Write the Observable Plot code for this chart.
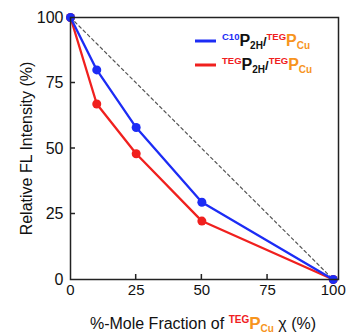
<!DOCTYPE html>
<html>
<head>
<meta charset="utf-8">
<script src="https://cdn.jsdelivr.net/npm/d3@7"></script>
<script src="https://cdn.jsdelivr.net/npm/@observablehq/plot@0.6"></script>
<style>
  body { margin: 0; background: white; }
</style>
</head>
<body>
<div id="chart"></div>
<script>
const xFractions = [0, 10, 25, 50, 100];
const c10Values = [100, 80, 58, 29.5, 0];
const tegValues = [100, 67, 48, 22.3, 0];
const xTicks = [0, 25, 50, 75, 100];
const yTicks = [0, 25, 50, 75, 100];
const diagonal = [[0, 100], [100, 0]];

const blue = "#1c2cf5";
const red = "#f0201e";
const orange = "#f7941d";

const c10 = xFractions.map((x, i) => ({x, y: c10Values[i]}));
const teg = xFractions.map((x, i) => ({x, y: tegValues[i]}));

const plot = Plot.plot({
  width: 347,
  height: 335,
  marginLeft: 70,
  marginRight: 9,
  marginTop: 17,
  marginBottom: 56,
  style: {fontFamily: "Liberation Sans, Arial, sans-serif", fontSize: "15px", color: "#111", background: "white"},
  x: {domain: [0, 102]},
  y: {domain: [0, 100]},
  marks: [
    Plot.line(diagonal, {x: d => d[0], y: d => d[1], stroke: "#555", strokeWidth: 1.2, strokeDasharray: "3,3"}),
    Plot.line(teg, {x: "x", y: "y", stroke: red, strokeWidth: 2.3}),
    Plot.dot(teg, {x: "x", y: "y", fill: red, r: 4.5}),
    Plot.line(c10, {x: "x", y: "y", stroke: blue, strokeWidth: 2.3}),
    Plot.dot(c10, {x: "x", y: "y", fill: blue, r: 4.5}),
    Plot.frame({stroke: "#222", strokeWidth: 1.5}),
    Plot.axisX({ticks: xTicks, tickSize: 0, tickPadding: 5, label: null}),
    Plot.axisY({ticks: yTicks, tickSize: 0, tickPadding: 7, label: "Relative FL Intensity (%)", labelAnchor: "center", labelArrow: "none", labelOffset: 50, fontSize: 16})
  ]
});

document.getElementById("chart").appendChild(plot);

const svg = d3.select(plot);
const font = "Liberation Sans, Arial, sans-serif";
const sx = plot.scale("x"), sy = plot.scale("y");
const x0 = sx.apply(0), y0 = sy.apply(0);

// inward ticks
const tg = svg.append("g").attr("stroke", "#222").attr("stroke-width", 1.5);
xTicks.slice(1, -1).forEach(v => {
  tg.append("line").attr("x1", sx.apply(v)).attr("x2", sx.apply(v)).attr("y1", y0).attr("y2", y0 - 5);
});
yTicks.slice(1, -1).forEach(v => {
  tg.append("line").attr("x1", x0).attr("x2", x0 + 5).attr("y1", sy.apply(v)).attr("y2", sy.apply(v));
});

// x-axis title with super/subscripts
const xt = svg.append("text")
  .attr("x", 203).attr("y", 329)
  .attr("text-anchor", "middle")
  .attr("font-family", font)
  .attr("font-size", 16)
  .attr("fill", "#111");
xt.append("tspan").text("%-Mole Fraction of ");
xt.append("tspan").attr("font-size", 10).attr("font-weight", "bold").attr("fill", red).attr("dy", -6).text("TEG");
xt.append("tspan").attr("font-size", 17).attr("font-weight", "bold").attr("fill", orange).attr("dy", 6).text("P");
xt.append("tspan").attr("font-size", 10).attr("font-weight", "bold").attr("fill", orange).attr("dy", 3).text("Cu");
xt.append("tspan").attr("dy", -3).text(" χ (%)");

// legend
const legend = [
  {color: blue, pre: "C10", preColor: blue, y: 41},
  {color: red, pre: "TEG", preColor: red, y: 65}
];
legend.forEach(l => {
  svg.append("line")
    .attr("x1", 195).attr("x2", 216)
    .attr("y1", l.y).attr("y2", l.y)
    .attr("stroke", l.color).attr("stroke-width", 3);
  const t = svg.append("text")
    .attr("x", 222).attr("y", l.y + 5)
    .attr("text-anchor", "start")
    .attr("font-family", font)
    .attr("font-weight", "bold")
    .attr("font-size", 16)
    .attr("fill", "#111");
  t.append("tspan").attr("font-size", 9.5).attr("fill", l.preColor).attr("dy", -6).text(l.pre);
  t.append("tspan").attr("font-size", 16).attr("fill", "#111").attr("dy", 6).text("P");
  t.append("tspan").attr("font-size", 10).attr("fill", "#111").attr("dy", 3).text("2H");
  t.append("tspan").attr("font-size", 13).attr("fill", "#111").attr("dy", -3).text("/");
  t.append("tspan").attr("font-size", 9.5).attr("fill", red).attr("dy", -6).text("TEG");
  t.append("tspan").attr("font-size", 16).attr("fill", orange).attr("dy", 6).text("P");
  t.append("tspan").attr("font-size", 10).attr("fill", orange).attr("dy", 3).text("Cu");
});
</script>
</body>
</html>
